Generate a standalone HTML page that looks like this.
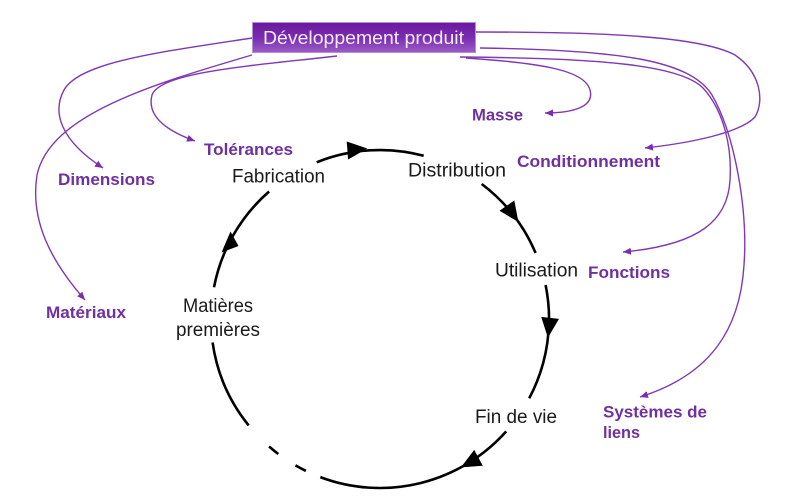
<!DOCTYPE html>
<html>
<head>
<meta charset="utf-8">
<style>
  html, body { margin: 0; padding: 0; background: #ffffff; }
  body { width: 800px; height: 504px; overflow: hidden; }
  svg { display: block; }
  .blk { font-family: "Liberation Sans", "DejaVu Sans", sans-serif; font-size: 19px; fill: #1a1a1a; }
  .pur { font-family: "Liberation Sans", "DejaVu Sans", sans-serif; font-size: 17px; font-weight: bold; fill: #7030a0; }
</style>
</head>
<body>
<svg width="800" height="504" viewBox="0 0 800 504" xmlns="http://www.w3.org/2000/svg">
  <defs>
    <linearGradient id="box" x1="0" y1="0" x2="0" y2="1">
      <stop offset="0" stop-color="#6a189e"/>
      <stop offset="0.5" stop-color="#7a2cb0"/>
      <stop offset="1" stop-color="#9a5cc6"/>
    </linearGradient>
    <marker id="pa" markerUnits="userSpaceOnUse" markerWidth="9" markerHeight="8" refX="8" refY="3.5" orient="auto">
      <path d="M0,0 L8,3.5 L0,7 z" fill="#7a2db0"/>
    </marker>
  </defs>

  <!-- purple connectors -->
  <g fill="none" stroke="#8038b4" stroke-width="1.4">
    <!-- Dimensions -->
    <path d="M252,38 C 160,52 80,62 64,90 C 52,112 60,140 103,168" marker-end="url(#pa)"/>
    <!-- Matériaux -->
    <path d="M252,55 C 150,85 50,115 37,175 C 30,220 50,260 85,300" marker-end="url(#pa)"/>
    <!-- Tolérances -->
    <path d="M337,56 C 250,66 160,72 152,95 C 146,118 170,132 195,141" marker-end="url(#pa)"/>
    <!-- Masse -->
    <path d="M466,58 C 540,63 585,70 590,90 C 595,108 570,113 545,113" marker-end="url(#pa)"/>
    <!-- Conditionnement -->
    <path d="M476,32 C 600,32 700,36 735,55 C 760,72 765,100 755,117 C 740,133 690,143 645,148" marker-end="url(#pa)"/>
    <!-- Fonctions -->
    <path d="M460,57 C 600,58 680,65 703,88 C 725,112 732,150 730,180 C 728,220 700,245 623,252" marker-end="url(#pa)"/>
    <!-- Systèmes de liens -->
    <path d="M480,48 C 620,50 690,60 712,95 C 735,135 748,210 744,265 C 740,330 710,375 640,397" marker-end="url(#pa)"/>
  </g>

  <!-- title box -->
  <rect x="252.5" y="22.5" width="223" height="30" fill="url(#box)" stroke="#b48fd4" stroke-width="1"/>
  <text x="263" y="44" font-family="'Liberation Sans', 'DejaVu Sans', sans-serif" font-size="18" fill="#f4ecfa" textLength="201" lengthAdjust="spacingAndGlyphs">Développement produit</text>

  <!-- cycle circle segments -->
  <g fill="none" stroke="#000" stroke-width="2.6">
    <path d="M316.7,162.3 A169,169 0 0 1 423.7,155.8"/>
    <path d="M481.7,184.0 A169,169 0 0 1 535.6,253.0"/>
    <path d="M545.6,285.0 A169,169 0 0 1 529.2,398.3"/>
    <path d="M506.2,431.4 A169,169 0 0 1 320.3,477.1"/>
    <path d="M305.9,470.9 A169,169 0 0 1 295.5,465.4"/>
    <path d="M278.3,454.0 A169,169 0 0 1 269.1,446.5"/>
    <path d="M248.7,425.4 A169,169 0 0 1 212.6,342.5"/>
    <path d="M214.0,287.3 A169,169 0 0 1 269.1,191.5"/>
  </g>

  <!-- arrowheads on cycle -->
  <g fill="#000">
    <polygon points="367.3,148.5 346.7,141.5 348.1,159.5"/>
    <polygon points="518.4,222.0 514.3,200.4 499.5,210.8"/>
    <polygon points="547.9,337.8 559.0,318.9 541.2,316.9"/>
    <polygon points="460.9,467.4 482.8,465.7 474.2,449.9"/>
    <polygon points="230.5,231.5 221.5,252.5 238.5,246.0"/>
  </g>

  <!-- black stage labels -->
  <text class="blk" x="232" y="182.7" textLength="93" lengthAdjust="spacingAndGlyphs">Fabrication</text>
  <text class="blk" x="408" y="176.5" textLength="98" lengthAdjust="spacingAndGlyphs">Distribution</text>
  <text class="blk" x="495" y="276.5" textLength="83" lengthAdjust="spacingAndGlyphs">Utilisation</text>
  <text class="blk" x="475" y="423" textLength="82" lengthAdjust="spacingAndGlyphs">Fin de vie</text>
  <text class="blk" x="183" y="312" textLength="70" lengthAdjust="spacingAndGlyphs">Matières</text>
  <text class="blk" x="176" y="336" textLength="84" lengthAdjust="spacingAndGlyphs">premières</text>

  <!-- purple labels -->
  <text class="pur" x="472" y="120.5" textLength="51" lengthAdjust="spacingAndGlyphs">Masse</text>
  <text class="pur" x="517" y="167" textLength="143" lengthAdjust="spacingAndGlyphs">Conditionnement</text>
  <text class="pur" x="588" y="278" textLength="82" lengthAdjust="spacingAndGlyphs">Fonctions</text>
  <text class="pur" x="204" y="155" textLength="89" lengthAdjust="spacingAndGlyphs">Tolérances</text>
  <text class="pur" x="58" y="185" textLength="97" lengthAdjust="spacingAndGlyphs">Dimensions</text>
  <text class="pur" x="46" y="318" textLength="80" lengthAdjust="spacingAndGlyphs">Matériaux</text>
  <text class="pur" x="603" y="417.5" textLength="104" lengthAdjust="spacingAndGlyphs">Systèmes de</text>
  <text class="pur" x="603" y="438" textLength="37" lengthAdjust="spacingAndGlyphs">liens</text>
</svg>
</body>
</html>
